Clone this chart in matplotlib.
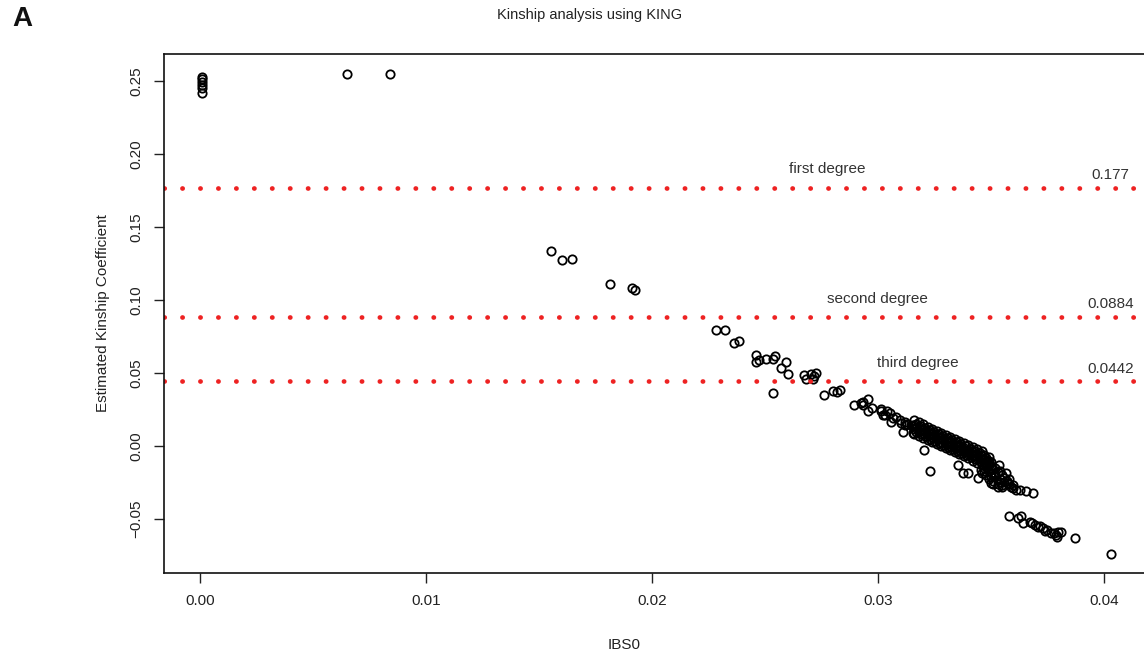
import matplotlib.pyplot as plt

# Kinship analysis (KING) - IBS0 vs estimated kinship coefficient
# scattered pairs
ibs0 = [
    0.0001, 0.0001, 0.0001, 0.0001, 0.0001, 0.0001, 0.0065, 0.0084,
    0.01554, 0.01603, 0.01644, 0.01813, 0.01913, 0.01924,
    0.02284, 0.02324, 0.02362, 0.02384,
    0.02462, 0.02472, 0.02462, 0.02505, 0.02534, 0.02546,
    0.02593, 0.02573, 0.02602, 0.02534,
    0.02674, 0.02681, 0.02703, 0.02715, 0.02711, 0.02724,
    0.02762, 0.02802, 0.02821, 0.02834,
    0.02892, 0.02932, 0.02932, 0.02954, 0.02954, 0.02973, 0.02927,
    0.03014, 0.03024, 0.03042, 0.03068, 0.03015, 0.03033, 0.03055, 0.03082,
    0.03060, 0.03104, 0.03121, 0.03113, 0.03148, 0.03157, 0.03205, 0.03232,
    0.0310, 0.0312, 0.0313, 0.0315,
]
kinship = [
    0.2529, 0.2511, 0.2493, 0.2473, 0.2450, 0.2416, 0.2546, 0.2550,
    0.1336, 0.1272, 0.1283, 0.1110, 0.1084, 0.1066,
    0.0790, 0.0790, 0.0705, 0.0719,
    0.0623, 0.0589, 0.0571, 0.0596, 0.0596, 0.0616,
    0.0571, 0.0530, 0.0495, 0.0363,
    0.0486, 0.0457, 0.0493, 0.0475, 0.0457, 0.0502,
    0.0347, 0.0372, 0.0370, 0.0379,
    0.0279, 0.0301, 0.0276, 0.0320, 0.0238, 0.0258, 0.0295,
    0.0251, 0.0212, 0.0235, 0.0190, 0.0240, 0.0212, 0.0226, 0.0199,
    0.0164, 0.0158, 0.0144, 0.0096, 0.0144, 0.0089, -0.0027, -0.0171,
    0.0180, 0.0165, 0.0150, 0.0135,
]

# the dense band of unrelated pairs
band_ibs0 = [
    0.0316, 0.0316, 0.0316, 0.0316, 0.0317, 0.0317, 0.0317,
    0.0318, 0.0318, 0.0318, 0.0318, 0.0319, 0.0319, 0.0319,
    0.0320, 0.0320, 0.0320, 0.0320, 0.0321, 0.0321, 0.0321,
    0.0322, 0.0322, 0.0322, 0.0322, 0.0323, 0.0323, 0.0323,
    0.0324, 0.0324, 0.0324, 0.0324, 0.0325, 0.0325, 0.0325,
    0.0326, 0.0326, 0.0326, 0.0326, 0.0327, 0.0327, 0.0327,
    0.0328, 0.0328, 0.0328, 0.0328, 0.0329, 0.0329, 0.0329,
    0.0330, 0.0330, 0.0330, 0.0330, 0.0331, 0.0331, 0.0331,
    0.0332, 0.0332, 0.0332, 0.0332, 0.0333, 0.0333, 0.0333,
    0.0334, 0.0334, 0.0334, 0.0334, 0.0335, 0.0335, 0.0335,
    0.0336, 0.0336, 0.0336, 0.0336, 0.0337, 0.0337, 0.0337,
    0.0338, 0.0338, 0.0338, 0.0338, 0.0339, 0.0339, 0.0339,
    0.0340, 0.0340, 0.0340, 0.0340, 0.0341, 0.0341, 0.0341,
    0.0342, 0.0342, 0.0342, 0.0342, 0.0343, 0.0343, 0.0343,
    0.0344, 0.0344, 0.0344, 0.0344, 0.0345, 0.0345, 0.0345,
    0.0346, 0.0346, 0.0346, 0.0346, 0.0347, 0.0347, 0.0347,
    0.0348, 0.0348, 0.0348, 0.0349, 0.0349, 0.0349, 0.0350, 0.0350,
]
band_kinship = [
    0.0084, 0.0114, 0.0144, 0.0174, 0.0092, 0.0122, 0.0152,
    0.0070, 0.0100, 0.0130, 0.0160, 0.0078, 0.0108, 0.0138,
    0.0056, 0.0086, 0.0116, 0.0146, 0.0064, 0.0094, 0.0124,
    0.0041, 0.0071, 0.0101, 0.0131, 0.0049, 0.0079, 0.0109,
    0.0027, 0.0057, 0.0087, 0.0117, 0.0035, 0.0065, 0.0095,
    0.0013, 0.0043, 0.0073, 0.0103, 0.0021, 0.0051, 0.0081,
    -0.0001, 0.0029, 0.0059, 0.0089, 0.0007, 0.0037, 0.0067,
    -0.0015, 0.0015, 0.0045, 0.0075, -0.0008, 0.0022, 0.0052,
    -0.0030, 0.0000, 0.0030, 0.0060, -0.0022, 0.0008, 0.0038,
    -0.0044, -0.0014, 0.0016, 0.0046, -0.0036, -0.0006, 0.0024,
    -0.0058, -0.0028, 0.0002, 0.0032, -0.0050, -0.0020, 0.0010,
    -0.0072, -0.0042, -0.0012, 0.0018, -0.0064, -0.0034, -0.0004,
    -0.0087, -0.0057, -0.0027, 0.0003, -0.0079, -0.0049, -0.0019,
    -0.0101, -0.0071, -0.0041, -0.0011, -0.0093, -0.0063, -0.0033,
    -0.0115, -0.0085, -0.0055, -0.0025, -0.0107, -0.0077, -0.0047,
    -0.0129, -0.0099, -0.0069, -0.0039, -0.0121, -0.0091, -0.0061,
    -0.0143, -0.0113, -0.0083, -0.0135, -0.0105, -0.0075, -0.0142, -0.0112,
]

# tail below the band and the lowest group
tail_ibs0 = [
    0.03355, 0.03377, 0.03400, 0.03484, 0.03536, 0.03457, 0.03444, 0.03567,
    0.03501, 0.03532, 0.03576, 0.03598, 0.03629, 0.03656, 0.03687, 0.03611,
    0.0347, 0.0349, 0.0350, 0.0351, 0.0352, 0.0353, 0.0354, 0.0355, 0.0356,
    0.0348, 0.0350, 0.0352, 0.0354, 0.0357, 0.0358, 0.0346, 0.0349, 0.0351,
    0.0353, 0.0355, 0.0360,
    0.0348, 0.0350, 0.0352, 0.0354, 0.0356, 0.0358, 0.0347, 0.0351, 0.0355, 0.0359,
    0.03580, 0.03620, 0.03634, 0.03642, 0.03673, 0.03695, 0.03717, 0.03731,
    0.03740, 0.03766, 0.03788, 0.03797, 0.03810, 0.03792, 0.03872, 0.04031,
    0.0371, 0.0375, 0.0378, 0.0368,
]
tail_kinship = [
    -0.0130, -0.0185, -0.0185, -0.0103, -0.0130, -0.0164, -0.0219, -0.0185,
    -0.0253, -0.0281, -0.0253, -0.0288, -0.0301, -0.0308, -0.0322, -0.0301,
    -0.0150, -0.0170, -0.0190, -0.0160, -0.0210, -0.0180, -0.0230, -0.0200, -0.0220,
    -0.0130, -0.0140, -0.0150, -0.0170, -0.0240, -0.0260, -0.0190, -0.0230, -0.0240,
    -0.0260, -0.0270, -0.0270,
    -0.0200, -0.0215, -0.0195, -0.0245, -0.0250, -0.0230, -0.0175, -0.0265, -0.0285, -0.0285,
    -0.0479, -0.0493, -0.0479, -0.0527, -0.0521, -0.0541, -0.0548, -0.0562,
    -0.0582, -0.0596, -0.0610, -0.0589, -0.0589, -0.0623, -0.0630, -0.0740,
    -0.0555, -0.0575, -0.0600, -0.0530,
]

degree_names = ["first degree", "second degree", "third degree"]
degree_cutoffs = [0.177, 0.0884, 0.0442]
cutoff_labels = ["0.177", "0.0884", "0.0442"]

x_ticks = [0.00, 0.01, 0.02, 0.03, 0.04]
y_ticks = [-0.05, 0.00, 0.05, 0.10, 0.15, 0.20, 0.25]

plt.rcParams['font.family'] = ['Liberation Sans', 'DejaVu Sans']
txt = '#222222'

fig = plt.figure(figsize=(11.44, 6.54), dpi=100)
ax = fig.add_axes([164 / 1144, 81 / 654, (1149 - 164) / 1144, (573 - 54) / 654])

pt_style = dict(linestyle='none', marker='o', markersize=6.0, markerfacecolor='none',
                markeredgecolor='black', markeredgewidth=1.3)
ax.plot(ibs0, kinship, **pt_style)
ax.plot(band_ibs0, band_kinship, **pt_style)
ax.plot(tail_ibs0, tail_kinship, **pt_style)

for c in degree_cutoffs:
    ax.axhline(c, color='#ee2222', linewidth=3.4, linestyle=(0, (0.05, 3.75)),
               dash_capstyle='round')

label_x = [0.02774, 0.02996, 0.03177]
for name, c, lx in zip(degree_names, degree_cutoffs, label_x):
    ax.text(lx, c + 0.0125, name, ha='center', va='center', fontsize=11, color='#333333')
for lab, c in zip(cutoff_labels, degree_cutoffs):
    ax.text(0.0403, c + 0.0085, lab, ha='center', va='center', fontsize=11, color='#333333')

ax.set_xlim(-0.0016, 0.0420)
ax.set_ylim(-0.0872, 0.2685)
ax.set_xticks(x_ticks)
ax.set_xticklabels(["%.2f" % v for v in x_ticks])
ax.set_yticks(y_ticks)
ax.set_yticklabels(["\u22120.05" if v < 0 else "%.2f" % v for v in y_ticks],
                   rotation=90, va='center')
ax.tick_params(direction='out', length=7, width=1, labelsize=11, colors=txt, pad=8)
for s in ax.spines.values():
    s.set_linewidth(1.2)
    s.set_color('#111111')

ax.set_ylabel("Estimated Kinship Coefficient", fontsize=11, color=txt, labelpad=14)
fig.text(624 / 1144, 1 - 645 / 654, "IBS0", ha='center', va='center', fontsize=11, color=txt)

fig.text(590 / 1144, 1 - 15 / 654, "Kinship analysis using KING", ha='center', va='center',
         fontsize=10.5, color=txt)
fig.text(12 / 1144, 1 - 19 / 654, "A", ha='left', va='center', fontsize=20,
         fontweight='bold', color='#111111')

fig.savefig("out.png", dpi=100)
